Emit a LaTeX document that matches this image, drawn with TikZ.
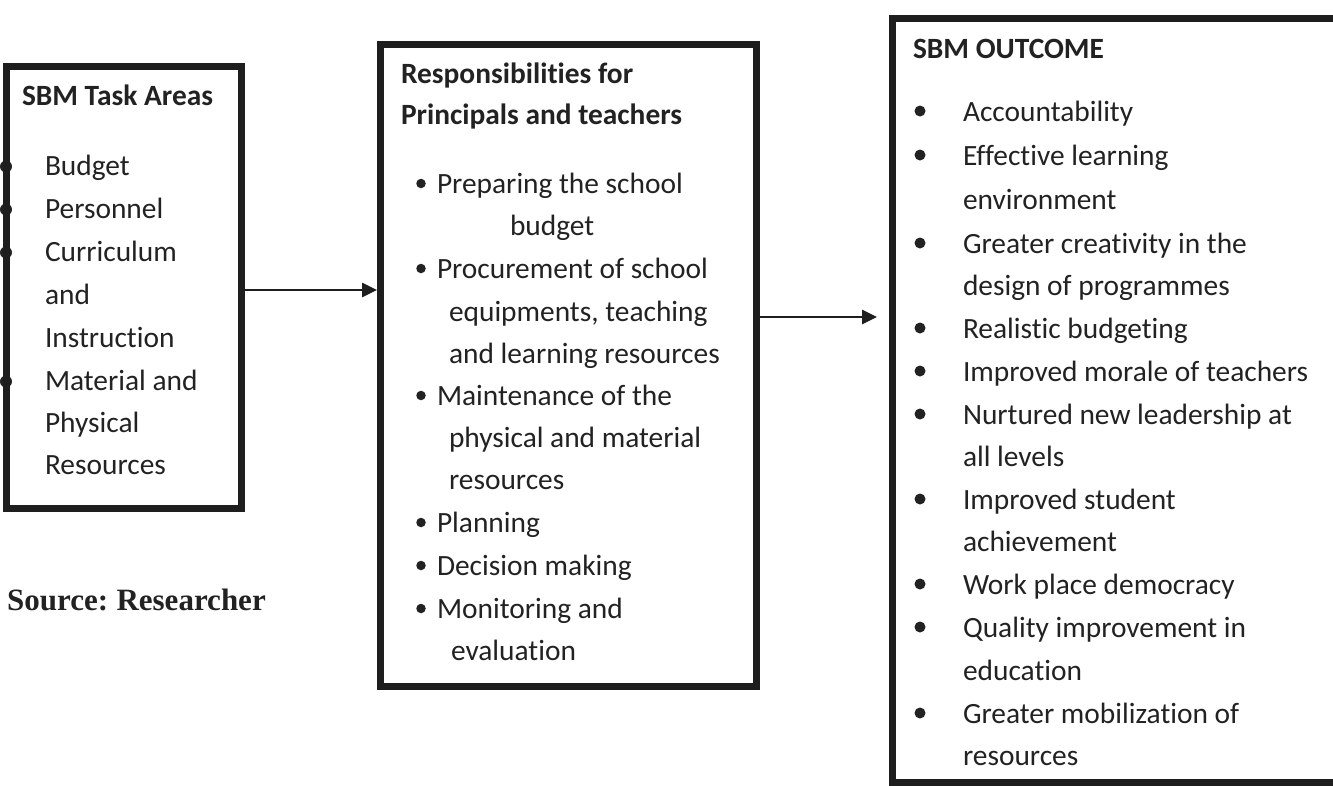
\documentclass[tikz,border=0pt]{standalone}
\usepackage{fontspec}
\setmainfont{Carlito}[Ligatures=NoCommon]
\newfontfamily\srcfont{Liberation Serif}
\usetikzlibrary{arrows.meta}
\definecolor{ink}{HTML}{222222}
\definecolor{edge}{HTML}{1E1E1E}
\begin{document}
\begin{tikzpicture}[x=1pt,y=-1pt,
  box/.style={draw=edge,line width=6.5pt,rectangle,inner sep=0pt,anchor=north west},
  txt/.style={anchor=base west,inner sep=0pt,outer sep=0pt,font=\fontsize{29.4}{33}\selectfont,text=ink},
  hd/.style={txt,font=\fontsize{29.4}{33}\selectfont\bfseries},
  src/.style={anchor=base west,inner sep=0pt,font=\srcfont\bfseries\fontsize{31}{34}\selectfont,text=ink},
  bdot/.style={circle,fill=ink,inner sep=0pt,minimum size=11pt},
  edot/.style={circle,fill=ink,inner sep=0pt,minimum size=12pt},
  sdot/.style={circle,fill=ink,inner sep=0pt,minimum size=9.5pt},
  conn/.style={draw=edge,line width=2.6pt,-{Triangle[length=15pt,width=14pt]}}]
\useasboundingbox (0,0) rectangle (1333,785);
\clip (0,0) rectangle (1333,785);
\fill[white] (0,0) rectangle (1333,785);

% box 1 bullets (partly under the border)
\foreach \y [count=\i] in {175,218,261,390} \node[edot] (p\i) at (6,\y-8.5) {};

% boxes
\node[box,minimum width=235pt,minimum height=442pt] (b1) at (3,63) {};
\node[box,minimum width=376pt,minimum height=642pt] (b2) at (377,41) {};
\node[box,minimum width=470pt,minimum height=764pt] (b3) at (889,15) {};

% box 1 text
\node[hd] (h1) at (22,105) {SBM Task Areas};
\foreach \t/\y [count=\i] in {Budget/175,Personnel/218,Curriculum/261,and/304,Instruction/347,Material and/390,Physical/432,Resources/474}
  \node[txt] (a\i) at (45,\y) {\t};

% source
\node[src] (s) at (7,610) {Source:\hspace{-2pt} Researcher};

% box 2 text
\node[hd] (h2a) at (401,83) {Responsibilities for};
\node[hd] (h2b) at (401,124) {Principals and teachers};
\foreach \y [count=\i] in {193,278,405,532,575,618} \node[sdot] (q\i) at (421,\y-9.5) {};
\foreach \t/\x/\y [count=\i] in {Preparing the school/437/193,budget/510/235,Procurement of school/437/278,{equipments, teaching}/449/321,and learning resources/449/363,Maintenance of the/437/405,physical and material/449/447,resources/449/489,Planning/437/532,Decision making/437/575,Monitoring and/437/618,evaluation/451/660}
  \node[txt] (r\i) at (\x,\y) {\t};

% box 3 text
\node[hd] (h3) at (913,58) {SBM OUTCOME};
\foreach \y [count=\i] in {121,165,253,338,381,424,509,594,637,723} \node[bdot] (o\i) at (920,\y-10) {};
\foreach \t/\y [count=\i] in {Accountability/121,Effective learning/165,environment/209,Greater creativity in the/253,design of programmes/295,Realistic budgeting/338,Improved morale of teachers/381,Nurtured new leadership at/424,all levels/466,Improved student/509,achievement/551,Work place democracy/594,Quality improvement in/637,education/680,Greater mobilization of/723,resources/765}
  \node[txt] (u\i) at (963,\y) {\t};

% connectors
\coordinate (y1) at (0,290);
\coordinate (y2) at (0,317);
\coordinate (e2) at (877,317);
\draw[conn] (b1.east |- y1) -- (b2.west |- y1);
\draw[conn] (b2.east |- y2) -- (e2);
\end{tikzpicture}
\end{document}
